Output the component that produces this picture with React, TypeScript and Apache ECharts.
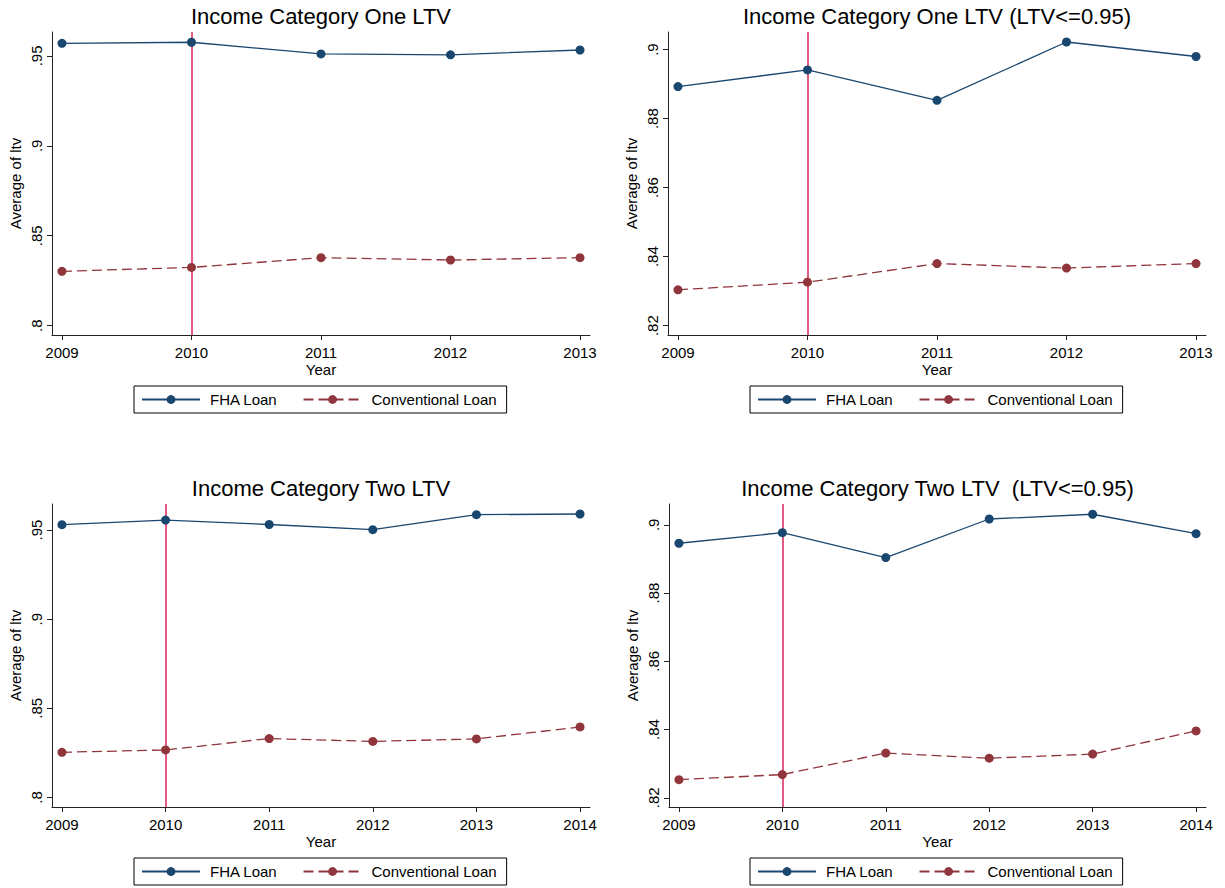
import React, { useEffect, useRef } from 'react';
import * as echarts from 'echarts';

const years5 = [2009, 2010, 2011, 2012, 2013];
const years6 = [2009, 2010, 2011, 2012, 2013, 2014];
const p1Fha = [0.957, 0.9576, 0.9511, 0.9506, 0.9533];
const p1Conv = [0.8302, 0.8324, 0.8378, 0.8365, 0.8378];
const p2Fha = [0.8893, 0.8941, 0.8853, 0.9022, 0.898];
const p2Conv = [0.8304, 0.8326, 0.838, 0.8367, 0.838];
const p3Fha = [0.953, 0.9556, 0.9531, 0.9502, 0.9586, 0.959];
const p3Conv = [0.8253, 0.8266, 0.833, 0.8314, 0.8328, 0.8395];
const p4Fha = [0.8946, 0.8977, 0.8904, 0.9017, 0.9031, 0.8974];
const p4Conv = [0.8253, 0.8268, 0.8331, 0.8316, 0.8328, 0.8396];
const ticksA = [0.8, 0.85, 0.9, 0.95];
const ticksB = [0.82, 0.84, 0.86, 0.88, 0.9];
const titles = [
  'Income Category One LTV',
  'Income Category One LTV (LTV<=0.95)',
  'Income Category Two LTV',
  'Income Category Two LTV  (LTV<=0.95)',
];
const seriesNames = ['FHA Loan', 'Conventional Loan'];
const policyYear = 2010;
const xName = 'Year';
const yName = 'Average of ltv';

const FONT = '"Liberation Sans", Arial, Helvetica, sans-serif';
const NAVY = '#1a476f';
const MAROON = '#90353b';
const VLINE = '#dc3264';

export default function App() {
  const ref = useRef<HTMLDivElement>(null);
  useEffect(() => {
    if (!ref.current) return;
    const chart = echarts.init(ref.current, null, { renderer: 'svg' });

    const panels = [
      { years: years5, fha: p1Fha, conv: p1Conv, ticks: ticksA, ymin: 0.7948, ymax: 0.9633, xpad: 0.077, grid: { left: 52, top: 32, width: 538, height: 303 }, legend: { left: 134, top: 386 } },
      { years: years5, fha: p2Fha, conv: p2Conv, ticks: ticksB, ymin: 0.8173, ymax: 0.9051, xpad: 0.077, grid: { left: 668, top: 32, width: 538, height: 303 }, legend: { left: 750, top: 386 } },
      { years: years6, fha: p3Fha, conv: p3Conv, ticks: ticksA, ymin: 0.7946, ymax: 0.9646, xpad: 0.096, grid: { left: 52, top: 504, width: 538, height: 303 }, legend: { left: 134, top: 858 } },
      { years: years6, fha: p4Fha, conv: p4Conv, ticks: ticksB, ymin: 0.8173, ymax: 0.9061, xpad: 0.096, grid: { left: 669, top: 504, width: 537, height: 303 }, legend: { left: 750, top: 858 } },
    ];

    const fmtY = (v: number) => String(+v.toFixed(4)).replace(/^0/, '');
    const axisLine = { show: true, lineStyle: { color: '#222', width: 1 } };

    const option: any = {
      animation: false,
      backgroundColor: '#fff',
      textStyle: { fontFamily: FONT },
      title: panels.map((p, i) => ({
        text: titles[i],
        left: p.grid.left + p.grid.width / 2,
        top: i < 2 ? 5 : 477,
        textAlign: 'center',
        padding: 0,
        textStyle: { fontFamily: FONT, fontSize: 22, fontWeight: 'normal', color: '#000' },
      })),
      grid: panels.map((p) => ({ ...p.grid, containLabel: false })),
      xAxis: panels.map((p, i) => ({
        type: 'value',
        gridIndex: i,
        min: p.years[0] - p.xpad,
        max: p.years[p.years.length - 1] + p.xpad,
        name: xName,
        nameLocation: 'middle',
        nameGap: 27,
        nameTextStyle: { fontFamily: FONT, fontSize: 15, color: '#000' },
        axisLine,
        axisTick: { show: true, length: 5, customValues: p.years, lineStyle: { color: '#222' } },
        axisLabel: { customValues: p.years, margin: 10, fontFamily: FONT, fontSize: 15, color: '#000', formatter: (v: number) => String(v) },
        splitLine: { show: false },
      })),
      yAxis: panels.map((p, i) => ({
        type: 'value',
        gridIndex: i,
        min: p.ymin,
        max: p.ymax,
        name: yName,
        nameLocation: 'middle',
        nameRotate: 90,
        nameGap: 29,
        nameTextStyle: { fontFamily: FONT, fontSize: 15, color: '#000' },
        axisLine,
        axisTick: { show: true, length: 5, customValues: p.ticks, lineStyle: { color: '#222' } },
        axisLabel: { customValues: p.ticks, rotate: 90, margin: 8, fontFamily: FONT, fontSize: 15, color: '#000', formatter: fmtY },
        splitLine: { show: false },
      })),
      legend: panels.map((p) => ({
        data: seriesNames,
        left: p.legend.left,
        top: p.legend.top,
        orient: 'horizontal',
        padding: [6, 10, 6, 7],
        itemWidth: 58,
        itemHeight: 11,
        itemGap: 25,
        borderColor: '#000',
        borderWidth: 1,
        borderRadius: 0,
        selectedMode: false,
        textStyle: { fontFamily: FONT, fontSize: 15, color: '#000', padding: [0, 0, 0, 5] },
      })),
      series: panels.flatMap((p, i) => [
        {
          name: seriesNames[0],
          type: 'line',
          xAxisIndex: i,
          yAxisIndex: i,
          data: p.years.map((y, k) => [y, p.fha[k]]),
          symbol: 'circle',
          symbolSize: 9,
          lineStyle: { color: NAVY, width: 1.3 },
          itemStyle: { color: NAVY },
          z: 3,
          markLine: {
            silent: true,
            symbol: 'none',
            label: { show: false },
            lineStyle: { color: VLINE, width: 1.6, type: 'solid' },
            data: [{ xAxis: policyYear }],
            z: 2,
          },
        },
        {
          name: seriesNames[1],
          type: 'line',
          xAxisIndex: i,
          yAxisIndex: i,
          data: p.years.map((y, k) => [y, p.conv[k]]),
          symbol: 'circle',
          symbolSize: 9,
          lineStyle: { color: MAROON, width: 1.3, type: [10, 5] },
          itemStyle: { color: MAROON },
          z: 3,
        },
      ]),
    };

    chart.setOption(option);
    return () => chart.dispose();
  }, []);

  return (
    <div
      ref={ref}
      style={{ position: 'fixed', left: 0, top: 0, width: 1225, height: 888, background: '#fff' }}
    />
  );
}
